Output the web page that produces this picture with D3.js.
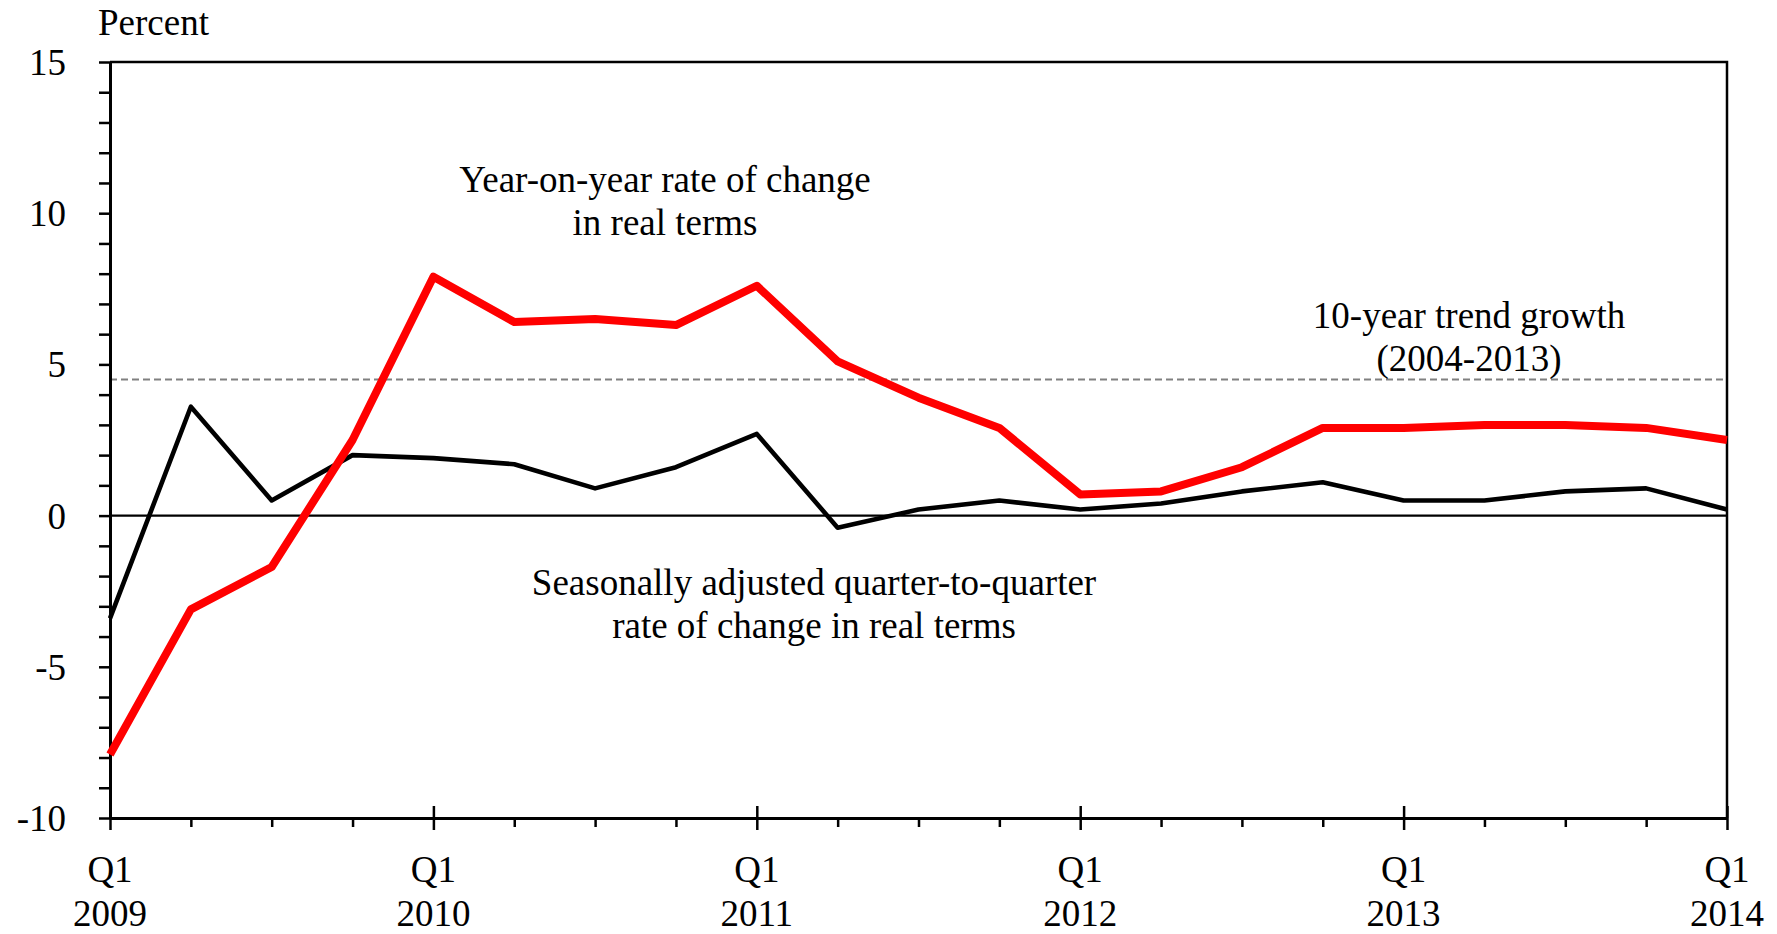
<!DOCTYPE html>
<html>
<head>
<meta charset="utf-8">
<script src="https://cdn.jsdelivr.net/npm/d3@7"></script>
<style>
body { margin: 0; background: #fff; }
svg { display: block; }
</style>
</head>
<body>
<script>
// quarters Q1 2009 .. Q1 2014
var quarters = ["Q1 2009","Q2 2009","Q3 2009","Q4 2009",
	"Q1 2010","Q2 2010","Q3 2010","Q4 2010",
	"Q1 2011","Q2 2011","Q3 2011","Q4 2011",
	"Q1 2012","Q2 2012","Q3 2012","Q4 2012",
	"Q1 2013","Q2 2013","Q3 2013","Q4 2013",
	"Q1 2014"];
var yoy = [-7.9, -3.1, -1.7, 2.5, 7.9, 6.4, 6.5, 6.3, 7.6, 5.1, 3.9, 2.9, 0.7, 0.8, 1.6, 2.9, 2.9, 3.0, 3.0, 2.9, 2.5];
var qoq = [-3.4, 3.6, 0.5, 2.0, 1.9, 1.7, 0.9, 1.6, 2.7, -0.4, 0.2, 0.5, 0.2, 0.4, 0.8, 1.1, 0.5, 0.5, 0.8, 0.9, 0.2];
var trend = 4.5;
var yTicks = [-10, -5, 0, 5, 10, 15];
var yearLabels = ["2009", "2010", "2011", "2012", "2013", "2014"];

var width = 1777, height = 934;
// note: "top" is reserved on window, so use plot_* names
var plot_left = 110, plot_right = 1727, plot_top = 62, plot_bottom = 818;
var font = "'Liberation Serif', 'Times New Roman', serif";
var size_text = 37;

var svg = d3.select("body")
	.append("svg")
	.attr("width", width)
	.attr("height", height);

var x = d3.scaleLinear().domain([0, quarters.length - 1]).range([plot_left, plot_right]);
var y = d3.scaleLinear().domain([-10, 15]).range([plot_bottom, plot_top]);

function drawFrame(){
	// top and right border
	svg.append("path")
	.attr("d", "M" + plot_left + "," + y(15) + "H" + plot_right + "V" + y(-10))
	.attr("fill", "none")
	.attr("stroke", "black")
	.attr("stroke-width", 2.5);

	// zero line
	svg.append("line")
	.attr("x1", plot_left).attr("x2", plot_right)
	.attr("y1", y(0)).attr("y2", y(0))
	.attr("stroke", "black")
	.attr("stroke-width", 2.3);

	// trend
	svg.append("line")
	.attr("x1", plot_left).attr("x2", plot_right)
	.attr("y1", y(trend)).attr("y2", y(trend))
	.attr("stroke", "#808080")
	.attr("stroke-width", 2.2)
	.attr("stroke-dasharray", "7,4");
}

function drawAxes(){
	var yAxis = d3.axisLeft(y)
		.tickValues(d3.range(-10, 16, 1))
		.tickSize(11)
		.tickSizeOuter(0)
		.tickPadding(33)
		.tickFormat(function(d){ return yTicks.indexOf(d) >= 0 ? d : ""; });

	var gy = svg.append("g")
	.attr("transform", "translate(" + plot_left + ",0)")
	.call(yAxis);
	gy.select(".domain").attr("stroke-width", 3);
	gy.selectAll(".tick line").attr("stroke-width", 2.5);
	gy.selectAll(".tick text")
	.attr("font-family", font)
	.attr("font-size", size_text)
	.attr("fill", "black")
	.attr("dy", "0.34em");

	var xAxis = d3.axisBottom(x)
		.tickValues(d3.range(0, quarters.length, 1))
		.tickSize(9)
		.tickSizeOuter(0)
		.tickFormat("");

	var gx = svg.append("g")
	.attr("transform", "translate(0," + plot_bottom + ")")
	.call(xAxis);
	gx.select(".domain").attr("stroke-width", 3);
	gx.selectAll(".tick line")
	.attr("stroke-width", 2.5)
	.attr("y1", function(d){ return d % 4 === 0 ? -12 : 0; })
	.attr("y2", function(d){ return d % 4 === 0 ? 12 : 9; });

	var majors = d3.range(0, quarters.length, 4);
	svg.selectAll("text.qlabel")
	.data(majors)
	.enter()
	.append("text")
	.attr("class", "qlabel")
	.attr("x", function(d){ return x(d); })
	.attr("y", 882)
	.attr("text-anchor", "middle")
	.attr("font-family", font)
	.attr("font-size", size_text)
	.text(function(d){ return quarters[d].split(" ")[0]; });

	svg.selectAll("text.ylabel")
	.data(majors)
	.enter()
	.append("text")
	.attr("class", "ylabel")
	.attr("x", function(d){ return x(d); })
	.attr("y", 926)
	.attr("text-anchor", "middle")
	.attr("font-family", font)
	.attr("font-size", size_text)
	.text(function(d, i){ return yearLabels[i]; });

	svg.append("text")
	.attr("x", 98)
	.attr("y", 35)
	.attr("font-family", font)
	.attr("font-size", size_text)
	.text("Percent");
}

function drawLines(){
	var line = d3.line()
		.x(function(d, i){ return x(i); })
		.y(function(d){ return y(d); });

	svg.append("path")
	.datum(qoq)
	.attr("d", line)
	.attr("fill", "none")
	.attr("stroke", "black")
	.attr("stroke-width", 4.6)
	.attr("stroke-linejoin", "round");

	svg.append("path")
	.datum(yoy)
	.attr("d", line)
	.attr("fill", "none")
	.attr("stroke", "#ff0000")
	.attr("stroke-width", 8)
	.attr("stroke-linejoin", "round");
}

function writeLabels(){
	var notes = [
		{x: 665, y: 192, lines: ["Year-on-year rate of change", "in real terms"]},
		{x: 1469, y: 328, lines: ["10-year trend growth", "(2004-2013)"]},
		{x: 814, y: 595, lines: ["Seasonally adjusted quarter-to-quarter", "rate of change in real terms"]}
	];
	notes.forEach(function(n){
		var t = svg.append("text")
		.attr("text-anchor", "middle")
		.attr("font-family", font)
		.attr("font-size", size_text)
		.attr("fill", "black");
		n.lines.forEach(function(s, i){
			t.append("tspan")
			.attr("x", n.x)
			.attr("y", n.y + i * 43)
			.text(s);
		});
	});
}

drawFrame();
drawAxes();
drawLines();
writeLabels();
</script>
</body>
</html>
